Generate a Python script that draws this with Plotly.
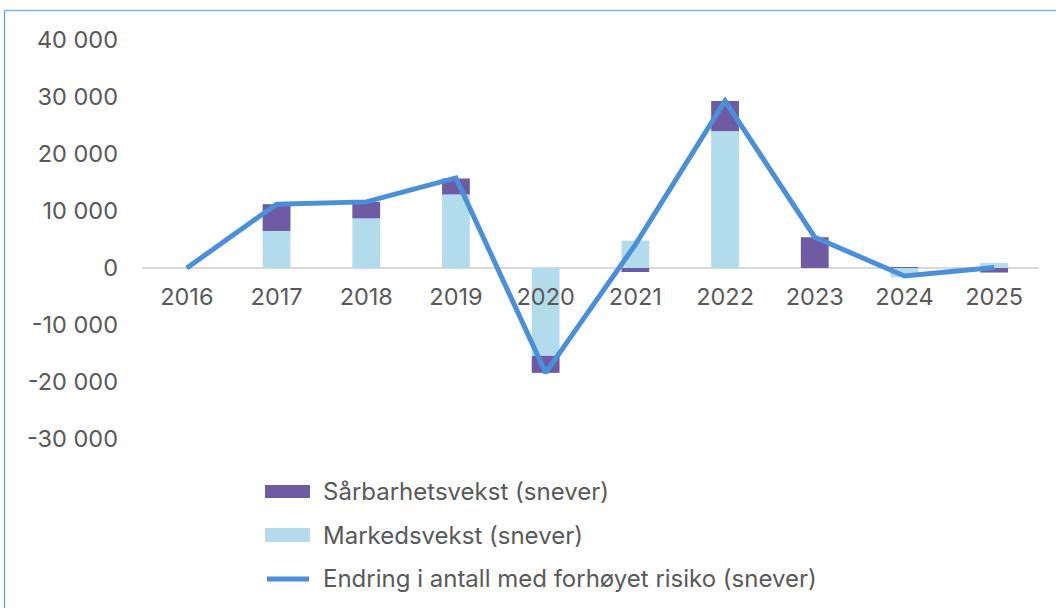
import plotly.graph_objects as go

years = ["2016", "2017", "2018", "2019", "2020", "2021", "2022", "2023", "2024", "2025"]
markedsvekst = [0, 6500, 8700, 12900, -15400, 4800, 24000, 0, -1600, 900]
sarbarhetsvekst = [0, 4700, 2900, 2800, -3000, -700, 5300, 5400, 100, -800]
endring = [0, 11200, 11600, 15800, -18400, 4100, 29300, 5400, -1400, 100]

tick_vals = [40000, 30000, 20000, 10000, 0, -10000, -20000, -30000]
tick_text = ["40 000", "30 000", "20 000", "10 000", "0",
             "-10 000", "-20 000", "-30 000"]

names = ["Sårbarhetsvekst (snever)", "Markedsvekst (snever)",
         "Endring i antall med forhøyet risiko (snever)"]

C_PURPLE = "#6E5BA3"
C_LIGHT = "#B2DCEC"
C_LINE = "#4A90D9"
C_TEXT = "#595959"
FONT = "Inter"

W, H = 1056, 608
L, R, T, B = 142, 17, 40, 169
PW, PH = W - L - R, H - T - B
Y_MIN, Y_MAX = -30000, 40000


def px(x):
    return (x - L) / PW


def py(y):
    return (H - B - y) / PH


fig = go.Figure()
fig.add_trace(go.Bar(x=years, y=markedsvekst, name=names[1], marker_color=C_LIGHT,
                     marker_line_width=0, showlegend=False))
fig.add_trace(go.Bar(x=years, y=sarbarhetsvekst, name=names[0], marker_color=C_PURPLE,
                     marker_line_width=0, showlegend=False))
fig.add_trace(go.Scatter(x=years, y=endring, name=names[2], mode="lines",
                         line=dict(color=C_LINE, width=5), showlegend=False))

shapes = [
    # outer chart border (top and left)
    dict(type="line", xref="paper", yref="paper", x0=px(4.5), x1=px(W + 5),
         y0=py(10.5), y1=py(10.5), line=dict(color="#7FB2E5", width=1.5)),
    dict(type="line", xref="paper", yref="paper", x0=px(4.5), x1=px(4.5),
         y0=py(10.5), y1=py(H + 5), line=dict(color="#5A9BDD", width=1.2)),
    # legend swatches
    dict(type="rect", xref="paper", yref="paper", x0=px(265), x1=px(310),
         y0=py(485), y1=py(498), fillcolor=C_PURPLE, line_width=0),
    dict(type="rect", xref="paper", yref="paper", x0=px(265), x1=px(310),
         y0=py(528), y1=py(542), fillcolor=C_LIGHT, line_width=0),
    dict(type="line", xref="paper", yref="paper", x0=px(267), x1=px(309),
         y0=py(579), y1=py(579), line=dict(color=C_LINE, width=5)),
]

annotations = []
for name, yc in zip(names, [491, 535, 578]):
    annotations.append(dict(xref="paper", yref="paper", x=px(321), y=py(yc),
                            text=name, showarrow=False, xanchor="left", yanchor="middle",
                            font=dict(family=FONT, size=24, color=C_TEXT)))

fig.update_layout(
    width=W, height=H,
    margin=dict(l=L, r=R, t=T, b=B, pad=0),
    paper_bgcolor="white", plot_bgcolor="white",
    barmode="relative", bargap=0.69,
    font=dict(family=FONT, size=23.5, color=C_TEXT),
    shapes=shapes, annotations=annotations,
    hovermode=False,
)
fig.update_xaxes(showgrid=False, showline=False, zeroline=False, ticks="",
                 tickfont=dict(family=FONT, size=23.5, color=C_TEXT),
                 anchor="free", position=(0 - Y_MIN) / (Y_MAX - Y_MIN),
                 ticklabelstandoff=12)
fig.update_yaxes(range=[Y_MIN, Y_MAX], tickvals=tick_vals, ticktext=tick_text,
                 showgrid=False, zeroline=True, zerolinecolor="#D9D9D9", zerolinewidth=1.5,
                 showline=False, ticks="", ticklabelstandoff=23,
                 tickfont=dict(family=FONT, size=23.5, color=C_TEXT))

fig.write_html("out.html", config={"displayModeBar": False},
               post_script="document.body.style.margin='0';")
